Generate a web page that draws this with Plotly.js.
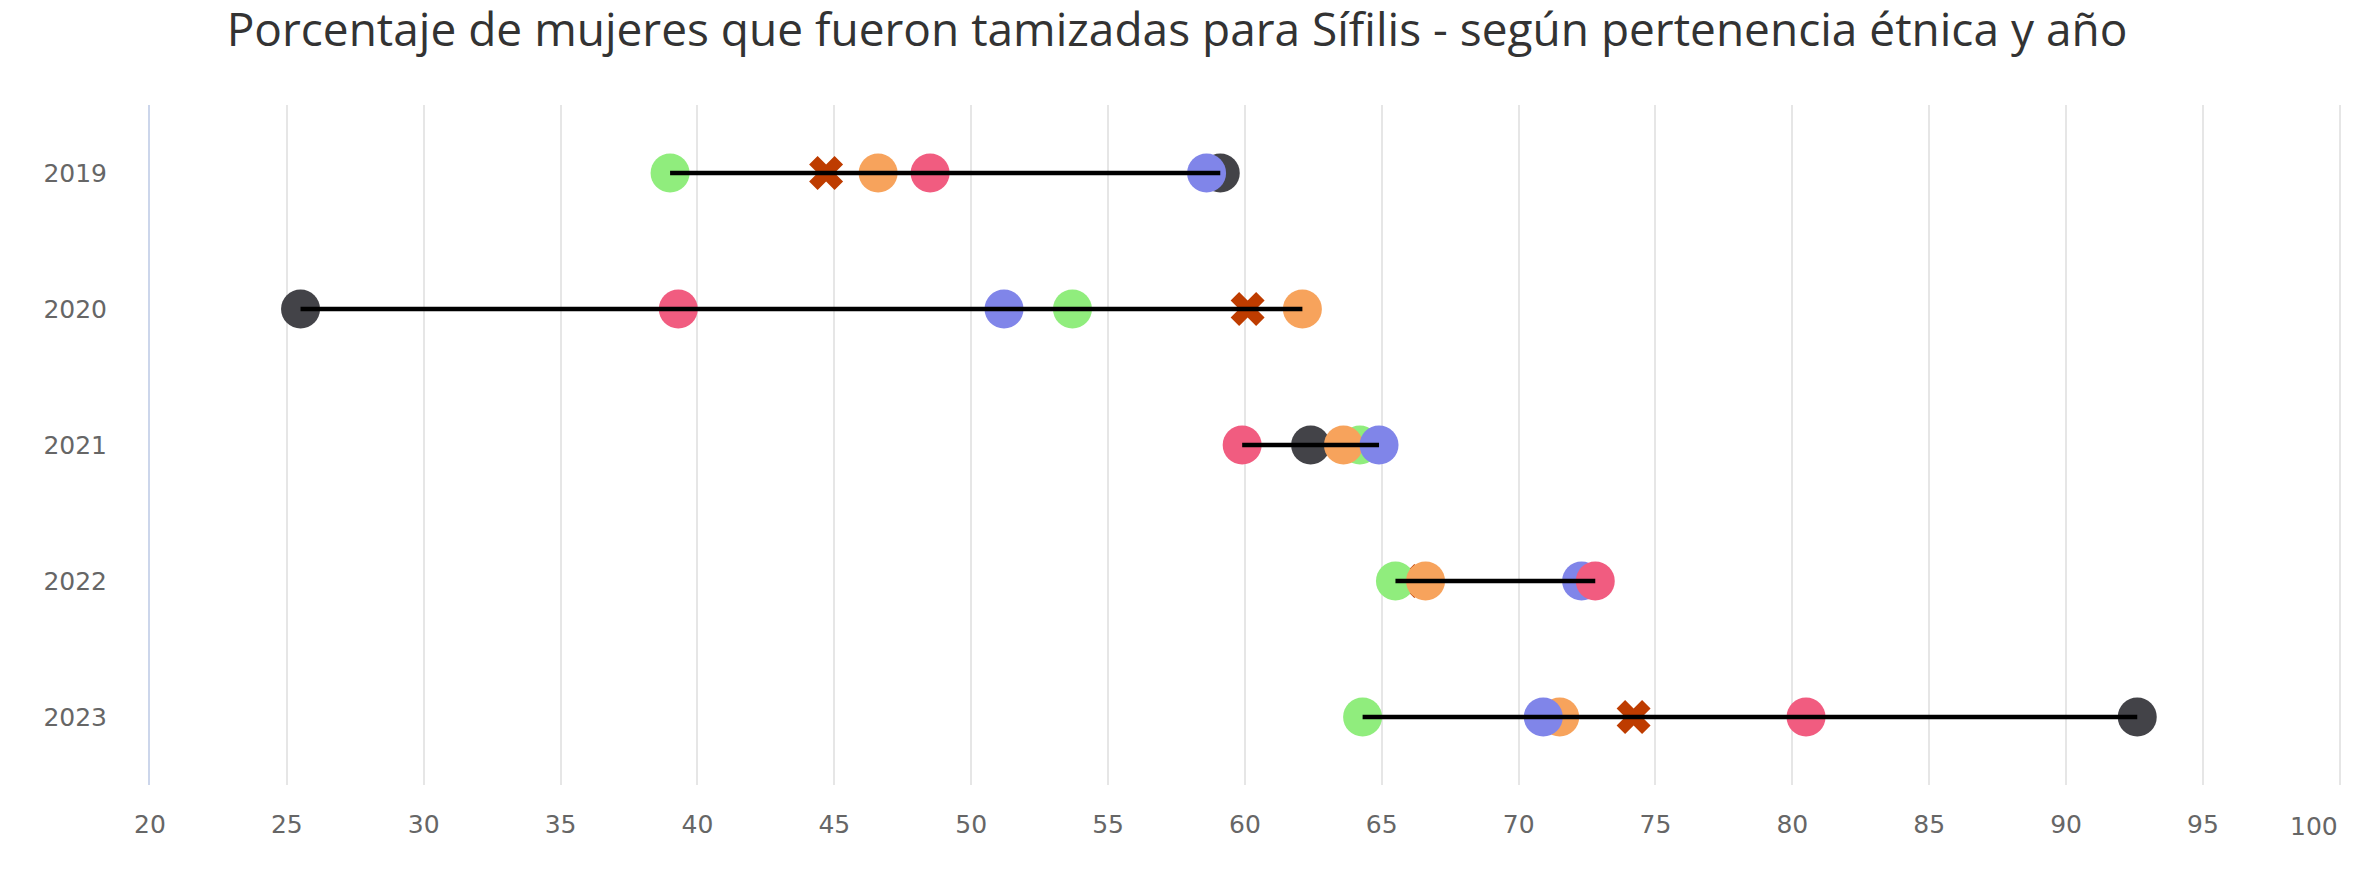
<!DOCTYPE html>
<html>
<head>
<meta charset="utf-8">
<script src="https://cdn.plot.ly/plotly-3.0.1.min.js"></script>
<style>html,body{margin:0;padding:0;background:#fff;}#chart{width:2354px;height:878px;}</style>
</head>
<body>
<div id="chart"></div>
<script>
const years = ["2019", "2020", "2021", "2022", "2023"];
const serieX = [44.7, 60.1, null, 66.5, 74.2];
const serieOscura = [59.1, 25.5, 62.4, null, 92.6];
const serieVerde = [39.0, 53.7, 64.2, 65.5, 64.3];
const serieNaranja = [46.6, 62.1, 63.6, 66.6, 71.5];
const serieAzul = [58.6, 51.2, 64.9, 72.3, 70.9];
const serieRosa = [48.5, 39.3, 59.9, 72.8, 80.5];
const xTicks = [20, 25, 30, 35, 40, 45, 50, 55, 60, 65, 70, 75, 80, 85, 90, 95, 100];

const names = ["Serie X", "Serie 1", "Serie 2", "Serie 3", "Serie 4", "Serie 5"];
const colors = ["#be3c00", "#434348", "#90ed7d", "#f7a35c", "#8085e9", "#f15c80"];
const allSeries = [serieX, serieOscura, serieVerde, serieNaranja, serieAzul, serieRosa];

const traces = [];
allSeries.forEach((vals, i) => {
  traces.push({
    type: "scatter", mode: "markers", name: names[i],
    x: vals, y: years,
    marker: i === 0
      ? {symbol: "x", size: 30, color: colors[i], line: {width: 0}}
      : {symbol: "circle", size: 39, color: colors[i], line: {width: 0}},
    hoverinfo: "x+name"
  });
});

// connector line from lowest to highest value per year
const lx = [], ly = [];
years.forEach((yr, k) => {
  const v = allSeries.map(s => s[k]).filter(d => d !== null);
  lx.push(Math.min(...v), Math.max(...v), null);
  ly.push(yr, yr, null);
});
traces.push({type: "scatter", mode: "lines", x: lx, y: ly, line: {color: "#000", width: 4.5}, hoverinfo: "skip", showlegend: false});

const fontTick = {family: "DejaVu Sans", size: 25, color: "#666666"};
const lastTick = xTicks[xTicks.length - 1];

const layout = {
  width: 2354, height: 878,
  margin: {l: 150, r: 12, t: 105, b: 93},
  paper_bgcolor: "#fff", plot_bgcolor: "#fff",
  showlegend: false,
  title: {text: "Porcentaje de mujeres que fueron tamizadas para Sífilis - según pertenencia étnica y año",
    font: {family: "Open Sans", size: 46, color: "#333333"},
    x: 0.5, xanchor: "center", y: 1 - 30/878, yanchor: "middle", yref: "container"},
  xaxis: {range: [20, 100.08], tickmode: "array", tickvals: xTicks,
    ticktext: xTicks.map(t => t === lastTick ? "" : String(t)),
    showgrid: true, gridcolor: "#e6e6e6", gridwidth: 2,
    zeroline: false, showline: false, ticks: "",
    tickfont: fontTick, ticklabelstandoff: 22},
  yaxis: {type: "category", categoryarray: years, range: [4.5, -0.5], showgrid: false, zeroline: false,
    showline: true, linecolor: "#ccd6eb", linewidth: 2, ticks: "",
    tickfont: fontTick, ticklabelstandoff: 36},
  annotations: [{text: String(lastTick), x: lastTick, xref: "x", xanchor: "right",
    y: -41/680, yref: "paper", yanchor: "middle", showarrow: false, font: fontTick}]
};
Plotly.newPlot("chart", traces, layout, {displayModeBar: false, staticPlot: true});
</script>
</body>
</html>
